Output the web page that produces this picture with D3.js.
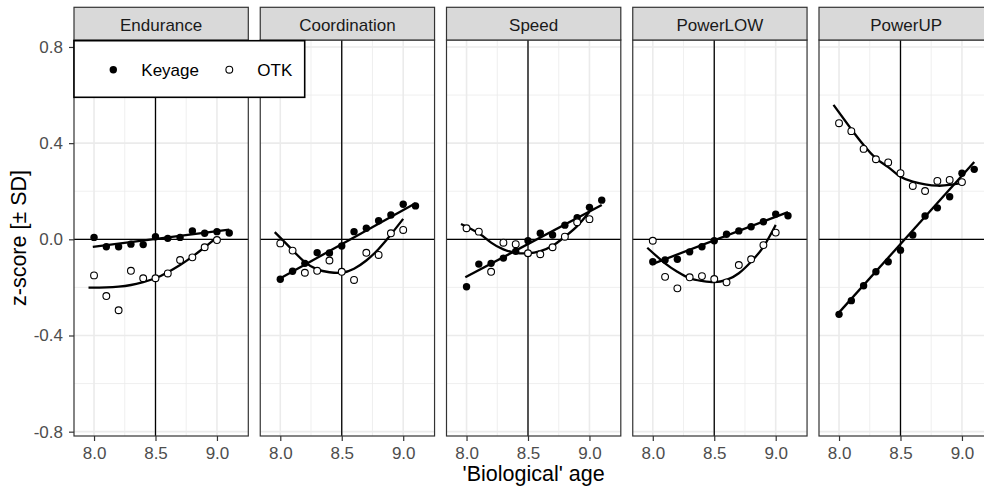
<!DOCTYPE html>
<html>
<head>
<meta charset="utf-8">
<script src="https://cdn.jsdelivr.net/npm/d3@7"></script>
<style>
  body { margin: 0; background: #fff; }
  text { font-family: "Liberation Sans", Arial, Helvetica, sans-serif; }
</style>
</head>
<body>
<svg id="chart" width="984" height="490"></svg>
<script>
const facets = ['Endurance', 'Coordination', 'Speed', 'PowerLOW', 'PowerUP'];

const keyageAge = [8.0, 8.1, 8.2, 8.3, 8.4, 8.5, 8.6, 8.7, 8.8, 8.9, 9.0, 9.1];
const keyageValues = [
  [0.008, -0.031, -0.031, -0.020, -0.022, 0.011, 0.004, 0.008, 0.035, 0.025, 0.032, 0.026],
  [-0.166, -0.133, -0.100, -0.056, -0.057, -0.028, 0.032, 0.046, 0.077, 0.101, 0.146, 0.139],
  [-0.197, -0.103, -0.100, -0.078, -0.050, -0.006, 0.025, 0.018, 0.059, 0.090, 0.133, 0.163],
  [-0.093, -0.086, -0.083, -0.052, -0.031, -0.006, 0.021, 0.035, 0.052, 0.073, 0.105, 0.098],
  [-0.312, -0.255, -0.193, -0.135, -0.093, -0.045, 0.018, 0.097, 0.131, 0.177, 0.275, 0.291]
];

const otkAge = [8.0, 8.1, 8.2, 8.3, 8.4, 8.5, 8.6, 8.7, 8.8, 8.9, 9.0];
const otkValues = [
  [-0.150, -0.236, -0.295, -0.131, -0.162, -0.162, -0.142, -0.086, -0.075, -0.033, -0.003],
  [-0.017, -0.047, -0.139, -0.131, -0.088, -0.135, -0.169, -0.056, -0.065, 0.025, 0.039],
  [0.046, 0.032, -0.135, -0.014, -0.020, -0.058, -0.062, -0.033, 0.011, 0.071, 0.084],
  [-0.006, -0.156, -0.204, -0.158, -0.153, -0.165, -0.179, -0.107, -0.083, -0.024, 0.028],
  [0.483, 0.450, 0.376, 0.333, 0.320, 0.275, 0.222, 0.201, 0.243, 0.247, 0.238]
];

// fitted lines
const keyageFitAge = [7.99, 9.1];
const keyageFit = [
  [-0.031, 0.040],
  [-0.165, 0.150],
  [-0.158, 0.143],
  [-0.104, 0.113],
  [-0.310, 0.322]
];

const otkFitAge = [7.955, 8.1, 8.2, 8.3, 8.4, 8.5, 8.6, 8.7, 8.8, 8.9, 9.0];
const otkFit = [
  [-0.201, -0.200, -0.197, -0.190, -0.178, -0.162, -0.137, -0.107, -0.072, -0.033, 0.008],
  [0.030, -0.045, -0.095, -0.125, -0.137, -0.139, -0.122, -0.088, -0.040, 0.020, 0.085],
  [0.064, 0.025, -0.014, -0.042, -0.056, -0.058, -0.049, -0.027, 0.011, 0.055, 0.115],
  [-0.035, -0.100, -0.135, -0.162, -0.173, -0.178, -0.169, -0.141, -0.093, -0.031, 0.060],
  [0.559, 0.458, 0.392, 0.337, 0.300, 0.260, 0.240, 0.229, 0.223, 0.226, 0.235]
];

const xTicks = [8.0, 8.5, 9.0];
const xMinor = [8.25, 8.75];
const yTicks = [-0.8, -0.4, 0.0, 0.4, 0.8];
const yMinor = [-0.6, -0.2, 0.2, 0.6];

const plotLeft = 74, plotTop = 40, plotBottom = 436;
const panelW = 174.3, panelStep = 186.25;
const stripTop = 7.3;

var svg = d3.select('#chart');

var x = d3.scaleLinear().domain([7.837, 9.255]).range([0, panelW]);
var y = d3.scaleLinear().domain([-0.818, 0.829]).range([plotBottom, plotTop]);

var fitLine = d3.line()
  .x(d => x(d[0]))
  .y(d => y(d[1]))
  .curve(d3.curveNatural);

facets.forEach((name, i) => {
  var g = svg.append('g')
    .attr('transform', `translate(${plotLeft + i * panelStep},0)`);

  g.append('rect')
    .attr('x', 0).attr('y', plotTop)
    .attr('width', panelW).attr('height', plotBottom - plotTop)
    .attr('fill', '#fff');

  // grid
  g.append('g').selectAll('line')
    .data(yMinor).enter().append('line')
    .attr('x1', 0).attr('x2', panelW)
    .attr('y1', d => y(d)).attr('y2', d => y(d))
    .attr('stroke', '#ebebeb').attr('stroke-width', 0.8);
  g.append('g').selectAll('line')
    .data(xMinor).enter().append('line')
    .attr('x1', d => x(d)).attr('x2', d => x(d))
    .attr('y1', plotTop).attr('y2', plotBottom)
    .attr('stroke', '#ebebeb').attr('stroke-width', 0.8);
  g.append('g').selectAll('line')
    .data(yTicks).enter().append('line')
    .attr('x1', 0).attr('x2', panelW)
    .attr('y1', d => y(d)).attr('y2', d => y(d))
    .attr('stroke', '#ebebeb').attr('stroke-width', 1.6);
  g.append('g').selectAll('line')
    .data(xTicks).enter().append('line')
    .attr('x1', d => x(d)).attr('x2', d => x(d))
    .attr('y1', plotTop).attr('y2', plotBottom)
    .attr('stroke', '#ebebeb').attr('stroke-width', 1.6);

  // reference lines
  g.append('line')
    .attr('x1', x(8.5)).attr('x2', x(8.5))
    .attr('y1', plotTop).attr('y2', plotBottom)
    .attr('stroke', '#000').attr('stroke-width', 1.3);
  g.append('line')
    .attr('x1', 0).attr('x2', panelW)
    .attr('y1', y(0)).attr('y2', y(0))
    .attr('stroke', '#000').attr('stroke-width', 1.3);

  // fits
  g.append('path')
    .datum(keyageFitAge.map((a, j) => [a, keyageFit[i][j]]))
    .attr('d', fitLine)
    .attr('fill', 'none').attr('stroke', '#000').attr('stroke-width', 2.3);
  g.append('path')
    .datum(otkFitAge.map((a, j) => [a, otkFit[i][j]]))
    .attr('d', fitLine)
    .attr('fill', 'none').attr('stroke', '#000').attr('stroke-width', 2.3);

  // points
  g.append('g').selectAll('circle')
    .data(keyageValues[i]).enter().append('circle')
    .attr('cx', (d, j) => x(keyageAge[j]))
    .attr('cy', d => y(d))
    .attr('r', 3.7)
    .attr('fill', '#000');
  g.append('g').selectAll('circle')
    .data(otkValues[i]).enter().append('circle')
    .attr('cx', (d, j) => x(otkAge[j]))
    .attr('cy', d => y(d))
    .attr('r', 3.4)
    .attr('fill', '#fff')
    .attr('stroke', '#000')
    .attr('stroke-width', 1.1);

  g.append('rect')
    .attr('x', 0).attr('y', plotTop)
    .attr('width', panelW).attr('height', plotBottom - plotTop)
    .attr('fill', 'none').attr('stroke', '#333').attr('stroke-width', 1.2);

  // strip
  g.append('rect')
    .attr('x', 0).attr('y', stripTop)
    .attr('width', panelW).attr('height', plotTop - stripTop)
    .attr('fill', '#d9d9d9').attr('stroke', '#333').attr('stroke-width', 1.2);
  g.append('text')
    .attr('x', panelW / 2).attr('y', 30.5)
    .attr('text-anchor', 'middle')
    .attr('fill', '#1a1a1a')
    .style('font-size', '17px')
    .text(name);

  // x axis
  var ax = g.append('g')
    .attr('transform', `translate(0,${plotBottom})`)
    .call(d3.axisBottom(x).tickValues(xTicks).tickSize(5).tickPadding(6)
      .tickFormat(d => d.toFixed(1)));
  ax.select('.domain').remove();
  ax.selectAll('line').attr('stroke', '#333').attr('stroke-width', 1.2);
  ax.selectAll('text')
    .attr('fill', '#4d4d4d')
    .style('font-size', '17px')
    .style('font-family', '"Liberation Sans", Arial, sans-serif');
});

// y axis
var ay = svg.append('g')
  .attr('transform', `translate(${plotLeft},0)`)
  .call(d3.axisLeft(y).tickValues(yTicks).tickSize(5).tickPadding(6)
    .tickFormat(d => d.toFixed(1)));
ay.select('.domain').remove();
ay.selectAll('line').attr('stroke', '#333').attr('stroke-width', 1.2);
ay.selectAll('text')
  .attr('fill', '#4d4d4d')
  .style('font-size', '17px')
  .style('font-family', '"Liberation Sans", Arial, sans-serif');

// axis titles
svg.append('text')
  .attr('x', plotLeft + (4 * panelStep + panelW) / 2)
  .attr('y', 481)
  .attr('text-anchor', 'middle')
  .attr('fill', '#000')
  .style('font-size', '21.5px')
  .text("'Biological' age");

svg.append('text')
  .attr('transform', `translate(25.5,${(plotTop + plotBottom) / 2}) rotate(-90)`)
  .attr('text-anchor', 'middle')
  .attr('fill', '#000')
  .style('font-size', '21.5px')
  .text('z-score [± SD]');

// legend
var legend = svg.append('g');
legend.append('rect')
  .attr('x', 74).attr('y', 40.7)
  .attr('width', 230.7).attr('height', 56.6)
  .attr('fill', '#fff').attr('stroke', '#000').attr('stroke-width', 1.6);
legend.append('circle')
  .attr('cx', 113.3).attr('cy', 69.7).attr('r', 3.7).attr('fill', '#000');
legend.append('text')
  .attr('x', 141.3).attr('y', 75.8)
  .style('font-size', '17px')
  .text('Keyage');
legend.append('circle')
  .attr('cx', 229.3).attr('cy', 69.7).attr('r', 3.4)
  .attr('fill', '#fff').attr('stroke', '#000').attr('stroke-width', 1.1);
legend.append('text')
  .attr('x', 257.3).attr('y', 75.8)
  .style('font-size', '17px')
  .text('OTK');
</script>
</body>
</html>
